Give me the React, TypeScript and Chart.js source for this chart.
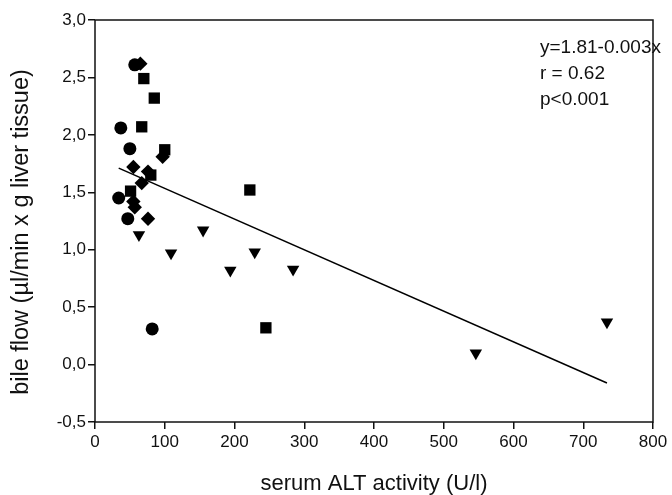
import React, { useEffect, useRef } from "react";
import { Chart, registerables } from "chart.js";

Chart.register(...registerables);

// Group 1: circles
const circleX = [57, 37, 50, 34, 47, 82];
const circleY = [2.61, 2.06, 1.88, 1.45, 1.27, 0.31];
// Group 2: squares
const squareX = [70, 85, 67, 100, 222, 245, 51, 80];
const squareY = [2.49, 2.32, 2.07, 1.87, 1.52, 0.32, 1.51, 1.65];
// Group 3: diamonds
const diamondX = [65, 55, 76, 67, 97, 55, 57, 76];
const diamondY = [2.62, 1.72, 1.68, 1.58, 1.81, 1.42, 1.37, 1.27];
// Group 4: triangles (down)
const triX = [63, 109, 155, 229, 194, 284, 546, 734];
const triY = [1.13, 0.97, 1.17, 0.98, 0.82, 0.83, 0.1, 0.37];
// Regression line end points
const regX = [34, 734];
const regY = [1.71, -0.16];

const xTicks = [0, 100, 200, 300, 400, 500, 600, 700, 800];
const yTicks = [-0.5, 0, 0.5, 1, 1.5, 2, 2.5, 3];
const annotation = ["y=1.81-0.003x", "r = 0.62", "p<0.001"];
const yTitle = "bile flow (µl/min x g liver tissue)";
const xTitle = "serum ALT activity (U/l)";

const FONT = "'Liberation Sans', Arial, sans-serif";

const pts = (xs: number[], ys: number[]) => xs.map((x, i) => ({ x, y: ys[i] }));

export default function App() {
  const ref = useRef<HTMLCanvasElement | null>(null);
  useEffect(() => {
    if (!ref.current) return;
    const boxPlugin = {
      id: "box",
      afterDatasetsDraw(chart: any) {
        const { ctx, chartArea: a } = chart;
        ctx.save();
        ctx.strokeStyle = "#111";
        ctx.lineWidth = 1.5;
        ctx.strokeRect(a.left, a.top, a.right - a.left, a.bottom - a.top);
        ctx.fillStyle = "#111";
        ctx.font = `19px ${FONT}`;
        ctx.textBaseline = "middle";
        ctx.textAlign = "left";
        annotation.forEach((t, i) => {
          ctx.fillText(t, a.left + 445, a.top + 28 + i * 26);
        });
        // y axis title
        ctx.font = `23.5px ${FONT}`;
        ctx.textAlign = "center";
        ctx.translate(22, (a.top + a.bottom) / 2 + 11);
        ctx.rotate(-Math.PI / 2);
        ctx.fillText(yTitle, 0, 0);
        ctx.restore();
      },
    };
    const common = { backgroundColor: "#000", borderColor: "#000", borderWidth: 0 };
    const chart = new Chart(ref.current, {
      type: "scatter",
      data: {
        datasets: [
          {
            type: "line",
            data: pts(regX, regY),
            borderColor: "#000",
            borderWidth: 1.5,
            pointRadius: 0,
            showLine: true,
            fill: false,
          } as any,
          { ...common, data: pts(circleX, circleY), pointStyle: "circle", pointRadius: 6.5 },
          { ...common, data: pts(squareX, squareY), pointStyle: "rect", pointRadius: 8 },
          { ...common, data: pts(diamondX, diamondY), pointStyle: "rectRot", pointRadius: 7.2 },
          { ...common, data: pts(triX, triY), pointStyle: "triangle", pointRotation: 180, pointRadius: 7.2 },
        ],
      },
      options: {
        animation: false,
        responsive: false,
        devicePixelRatio: 1,
        layout: { padding: { top: 20, right: 19, left: 0, bottom: 0 } },
        plugins: { legend: { display: false }, tooltip: { enabled: false } },
        scales: {
          x: {
            type: "linear",
            min: 0,
            max: 800,
            afterFit: (s: any) => { s.height = 73; },
            afterBuildTicks: (s: any) => { s.ticks = xTicks.map((v) => ({ value: v })); },
            grid: { drawOnChartArea: false, tickLength: 7, color: "#111", lineWidth: 1.5 },
            border: { display: false },
            ticks: { color: "#111", font: { family: FONT, size: 17 }, padding: 3, maxRotation: 0 },
            title: { display: true, text: xTitle, color: "#111", font: { family: FONT, size: 22, lineHeight: 1 }, padding: { top: 0, bottom: 0 } },
          },
          y: {
            type: "linear",
            min: -0.5,
            max: 3,
            afterFit: (s: any) => { s.width = 95; },
            afterBuildTicks: (s: any) => { s.ticks = yTicks.map((v) => ({ value: v })); },
            grid: { drawOnChartArea: false, tickLength: 7, color: "#111", lineWidth: 1.5 },
            border: { display: false },
            ticks: {
              color: "#111",
              font: { family: FONT, size: 17 },
              padding: 2,
              callback: (v: any) => Number(v).toFixed(1).replace(".", ","),
            },
            title: { display: false },
          },
        },
      },
      plugins: [boxPlugin],
    });
    return () => chart.destroy();
  }, []);
  return (
    <div style={{ position: "absolute", left: 0, top: 0, width: 672, height: 495 }}>
      <canvas ref={ref} width={672} height={495} style={{ display: "block" }} />
    </div>
  );
}
